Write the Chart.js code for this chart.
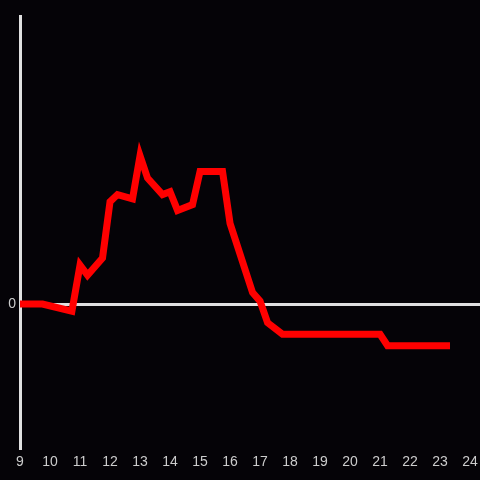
<!DOCTYPE html>
<html><head><meta charset="utf-8">
<script src="https://cdn.jsdelivr.net/npm/chart.js@4/dist/chart.umd.min.js"></script>
<style>html,body{margin:0;padding:0;background:#050307;}#wrap{width:480px;height:480px;}</style>
</head><body><div id="wrap"><canvas id="c" width="480" height="480"></canvas></div>
<script>
const hours = [9, 9.75, 10.73, 11, 11.25, 11.75, 12, 12.25, 12.75, 13, 13.25, 13.75, 14, 14.25, 14.75, 15, 15.75, 16, 16.75, 17, 17.25, 17.75, 21, 21.25, 23.33];
const values = [0, 0, -0.05, 0.27, 0.2, 0.32, 0.71, 0.76, 0.73, 1.03, 0.875, 0.76, 0.78, 0.65, 0.69, 0.92, 0.92, 0.56, 0.08, 0.02, -0.13, -0.21, -0.21, -0.29, -0.29];
const xTicks = [9,10,11,12,13,14,15,16,17,18,19,20,21,22,23,24];
const yTickLabels = {0: '0'};

const bg = {id:'bg', beforeDraw(ch){const c=ch.ctx;c.save();c.fillStyle='#050307';c.fillRect(0,0,ch.width,ch.height);c.restore();}};
new Chart(document.getElementById('c'), {
  type: 'line',
  data: { datasets: [{ data: hours.map((h,i)=>({x:h,y:values[i]})), borderColor:'#ff0000', borderWidth:7, pointRadius:0, tension:0, fill:false }] },
  options: {
    responsive:false, animation:false,
    layout:{padding:{top:16,left:0,right:0,bottom:0}},
    plugins:{legend:{display:false},tooltip:{enabled:false}},
    scales:{
      x:{type:'linear', min:9, max:24.33,
        afterBuildTicks(s){s.ticks = xTicks.map(v=>({value:v}));},
        afterFit(s){s.height=32; s.paddingLeft=0; s.paddingRight=0;},
        grid:{display:false, drawTicks:false}, border:{display:false},
        ticks:{color:'#cccccc', font:{family:'Liberation Sans', size:14}, padding:6, autoSkip:false, maxRotation:0, callback:v=>String(v)}},
      y:{min:-1, max:2,
        afterBuildTicks(s){s.ticks=[{value:-1},{value:0},{value:1},{value:2}];},
        afterFit(s){s.width=20;},
        grid:{drawTicks:false, lineWidth:3, color:c=>c.tick && c.tick.value===0 ? '#e0e0e0' : 'rgba(0,0,0,0)'},
        border:{display:true, color:'#e0e0e0', width:3},
        ticks:{color:'#cccccc', font:{family:'Liberation Sans', size:14}, padding:4, callback:v=>yTickLabels[v] ?? ''}}
    }
  },
  plugins:[bg]
});
</script></body></html>
